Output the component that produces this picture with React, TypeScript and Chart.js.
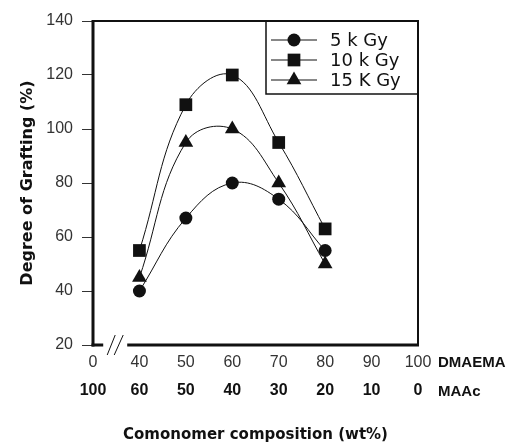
import React, { useEffect, useRef } from 'react';
import { Chart, registerables } from 'chart.js';

Chart.register(...registerables);

// ---- data ----
const xValues = [40, 50, 60, 70, 80];
const series5kGy = [40, 67, 80, 74, 55];
const series10kGy = [55, 109, 120, 95, 63];
const series15kGy = [45, 95, 100, 80, 50];
const seriesLabels = ['5 k Gy', '10 k Gy', '15 K Gy'];
const xTickValues = [30, 40, 50, 60, 70, 80, 90, 100];
const dmaemaLabels = ['0', '40', '50', '60', '70', '80', '90', '100'];
const maacLabels = ['100', '60', '50', '40', '30', '20', '10', '0'];
const rowNames = ['DMAEMA', 'MAAc'];
const yTickValues = [20, 40, 60, 80, 100, 120, 140];
const yTitle = 'Degree of Grafting (%)';
const xTitle = 'Comonomer composition (wt%)';

const LIB = "'Liberation Sans', Arial, sans-serif";
const DJV = "'DejaVu Sans', sans-serif";
const INK = '#111';

function drawMarker(ctx: CanvasRenderingContext2D, style: string, r: number, x: number, y: number) {
  ctx.beginPath();
  if (style === 'circle') {
    ctx.arc(x, y, r, 0, Math.PI * 2);
  } else if (style === 'rect') {
    const s = Math.SQRT1_2 * r;
    ctx.rect(x - s, y - s, 2 * s, 2 * s);
  } else {
    const a = (2 * Math.PI) / 3;
    ctx.moveTo(x, y - r);
    ctx.lineTo(x + Math.sin(a) * r, y - Math.cos(a) * r);
    ctx.lineTo(x - Math.sin(a) * r, y - Math.cos(a) * r);
    ctx.closePath();
  }
  ctx.fill();
}

const framePlugin = {
  id: 'frame',
  afterDraw(chart: any) {
    const ctx: CanvasRenderingContext2D = chart.ctx;
    const ca = chart.chartArea;
    const xs = chart.scales.x;
    ctx.save();
    ctx.strokeStyle = INK;
    ctx.fillStyle = INK;
    // top & right thin frame
    ctx.lineWidth = 2;
    ctx.beginPath();
    ctx.moveTo(ca.left, ca.top);
    ctx.lineTo(ca.right, ca.top);
    ctx.lineTo(ca.right, ca.bottom);
    ctx.stroke();
    // left thick axis
    ctx.lineWidth = 3;
    ctx.beginPath();
    ctx.moveTo(ca.left, ca.top - 1);
    ctx.lineTo(ca.left, ca.bottom + 1.5);
    ctx.stroke();
    // bottom thick axis with break
    const mid = xs.getPixelForValue(35);
    ctx.beginPath();
    ctx.moveTo(ca.left - 1.5, ca.bottom);
    ctx.lineTo(mid - 13, ca.bottom);
    ctx.moveTo(mid + 11, ca.bottom);
    ctx.lineTo(ca.right + 1, ca.bottom);
    ctx.stroke();
    // break marks
    ctx.lineWidth = 1;
    ctx.beginPath();
    ctx.moveTo(mid - 9, ca.bottom + 10);
    ctx.lineTo(mid - 1, ca.bottom - 10);
    ctx.moveTo(mid - 2, ca.bottom + 10);
    ctx.lineTo(mid + 7, ca.bottom - 10);
    ctx.stroke();

    // row names at right of tick rows
    ctx.font = `bold 15px ${LIB}`;
    ctx.textAlign = 'left';
    ctx.textBaseline = 'middle';
    ctx.fillText(rowNames[0], ca.right + 20, ca.bottom + 18);
    ctx.fillText(rowNames[1], ca.right + 20, ca.bottom + 47);

    // legend
    const w = 152;
    const h = 73;
    const lx = ca.right - w;
    const ly = ca.top;
    ctx.lineWidth = 1.5;
    ctx.strokeRect(lx, ly, w, h);
    chart.data.datasets.forEach((ds: any, i: number) => {
      const y = ly + 19 + i * 20;
      ctx.lineWidth = 1;
      ctx.beginPath();
      ctx.moveTo(lx + 5, y);
      ctx.lineTo(lx + 51, y);
      ctx.stroke();
      drawMarker(ctx, ds.pointStyle, ds.pointRadius, lx + 28, y);
      ctx.font = `18px ${DJV}`;
      ctx.textAlign = 'left';
      ctx.textBaseline = 'middle';
      ctx.fillText(ds.label, lx + 64, y + 1);
    });
    ctx.restore();
  },
};

export default function App() {
  const ref = useRef<HTMLCanvasElement | null>(null);
  useEffect(() => {
    if (!ref.current) return;
    const mk = (label: string, vals: number[], style: string, r: number) => ({
      label,
      data: xValues.map((x, i) => ({ x, y: vals[i] })),
      borderColor: INK,
      backgroundColor: INK,
      borderWidth: 1,
      pointStyle: style,
      pointRadius: r,
      pointBorderWidth: 0,
      pointBackgroundColor: INK,
      tension: 0.4,
      fill: false,
    });
    const chart = new Chart(ref.current, {
      type: 'line',
      data: {
        datasets: [
          mk(seriesLabels[0], series5kGy, 'circle', 6.5),
          mk(seriesLabels[1], series10kGy, 'rect', 9),
          mk(seriesLabels[2], series15kGy, 'triangle', 8.5),
        ],
      },
      options: {
        responsive: false,
        animation: false,
        layout: { padding: { left: 0, right: 92, top: 21, bottom: 0 } },
        plugins: { legend: { display: false }, tooltip: { enabled: false } },
        scales: {
          x: {
            type: 'linear',
            position: 'bottom',
            weight: 0,
            min: 30,
            max: 100,
            afterBuildTicks: (s: any) => {
              s.ticks = xTickValues.map((v) => ({ value: v }));
            },
            afterFit: (s: any) => {
              s.height = 28;
            },
            ticks: {
              padding: 8,
              color: '#333',
              font: { family: LIB, size: 16 },
              maxRotation: 0,
              autoSkip: false,
              callback: (v: any) => dmaemaLabels[xTickValues.indexOf(Number(v))] ?? '',
            },
            grid: { display: false, drawTicks: false },
            border: { display: false },
          },
          x2: {
            type: 'linear',
            position: 'bottom',
            weight: 1,
            min: 30,
            max: 100,
            afterBuildTicks: (s: any) => {
              s.ticks = xTickValues.map((v) => ({ value: v }));
            },
            afterFit: (s: any) => {
              s.height = 71;
            },
            ticks: {
              padding: 8,
              color: INK,
              font: { family: LIB, size: 16, weight: 'bold' },
              maxRotation: 0,
              autoSkip: false,
              callback: (v: any) => maacLabels[xTickValues.indexOf(Number(v))] ?? '',
            },
            grid: { display: false, drawTicks: false },
            border: { display: false },
            title: {
              display: true,
              text: xTitle,
              color: INK,
              font: { family: DJV, size: 15, weight: 'bold' },
              padding: { top: 0, bottom: 0 },
            },
          },
          y: {
            type: 'linear',
            min: 20,
            max: 140,
            afterBuildTicks: (s: any) => {
              s.ticks = yTickValues.map((v) => ({ value: v }));
            },
            afterFit: (s: any) => {
              s.width = 93;
            },
            ticks: {
              padding: 9,
              color: '#333',
              font: { family: LIB, size: 16 },
            },
            grid: { drawOnChartArea: false, drawTicks: true, tickLength: 11, color: '#333', lineWidth: 1 },
            border: { display: false },
            title: {
              display: true,
              text: yTitle,
              color: INK,
              font: { family: DJV, size: 16, weight: 'bold' },
              padding: { top: 18, bottom: 0 },
            },
          },
        },
      },
      plugins: [framePlugin],
    } as any);
    return () => chart.destroy();
  }, []);
  return (
    <div style={{ position: 'fixed', left: 0, top: 0, width: 510, height: 444, background: '#fff' }}>
      <canvas ref={ref} width={510} height={444} style={{ display: 'block' }} />
    </div>
  );
}
